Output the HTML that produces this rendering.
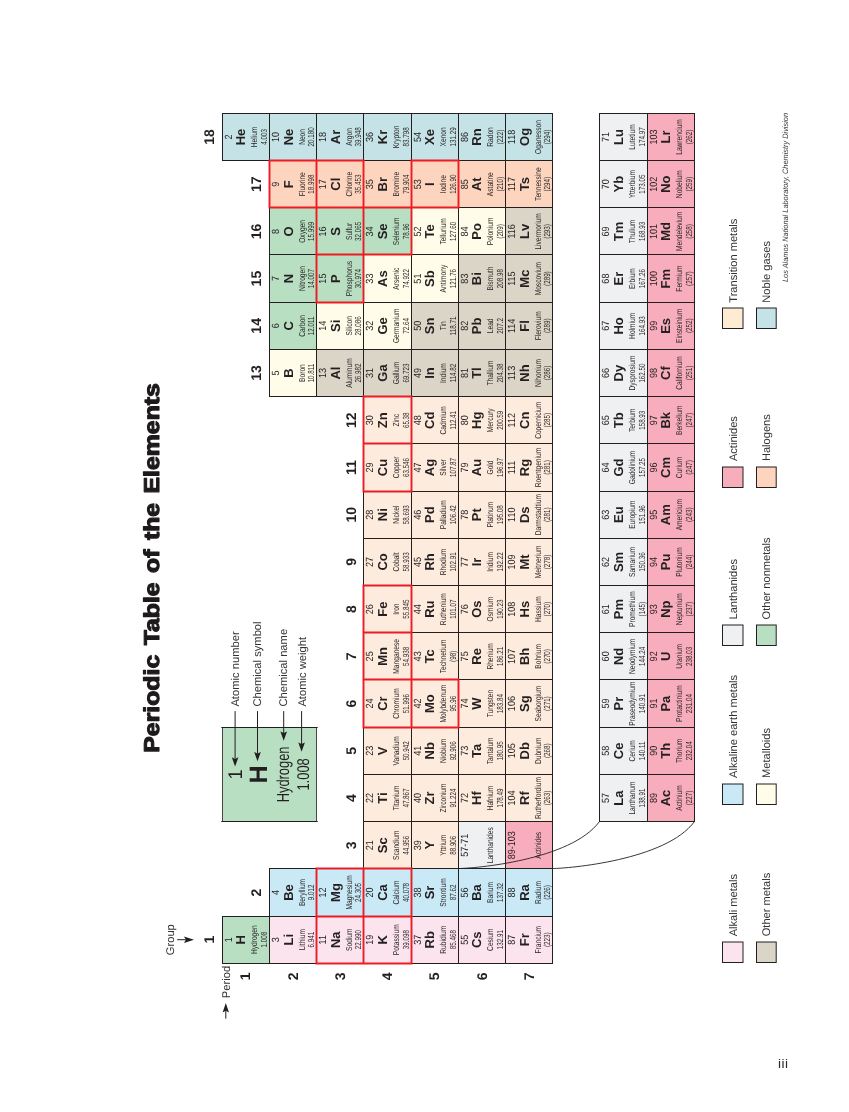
<!DOCTYPE html>
<html lang="en">
<head>
<meta charset="utf-8">
<title>Periodic Table of the Elements</title>
<style>
html,body{margin:0;padding:0;background:#fff;}
body{width:849px;height:1112px;overflow:hidden;position:relative;}
svg{position:absolute;left:0;top:0;display:block;}
svg text{font-family:"Liberation Sans",Arial,Helvetica,sans-serif;}
svg .b{font-weight:700;}
#pageno{position:absolute;left:778px;top:1057px;font:13.5px/14px "Liberation Sans",Arial,Helvetica,sans-serif;letter-spacing:.5px;color:#2b2829;}
</style>
</head>
<body>
<svg width="849" height="1112" viewBox="0 0 849 1112" text-rendering="geometricPrecision">
<g transform="translate(0 1112) rotate(-90)">
<g id="fills" shape-rendering="geometricPrecision">
<rect x="148.5" y="222.5" width="47" height="47" fill="#b9dfc3"/>
<rect x="951.5" y="222.5" width="47" height="47" fill="#c5e3e6"/>
<rect x="148.5" y="269.5" width="47" height="47" fill="#fce4ee"/>
<rect x="195.5" y="269.5" width="48" height="47" fill="#c9e9f6"/>
<rect x="715.5" y="269.5" width="47" height="47" fill="#fffde9"/>
<rect x="762.5" y="269.5" width="47" height="47" fill="#b9dfc3"/>
<rect x="809.5" y="269.5" width="48" height="47" fill="#b9dfc3"/>
<rect x="857.5" y="269.5" width="47" height="47" fill="#b9dfc3"/>
<rect x="904.5" y="269.5" width="47" height="47" fill="#fdd4be"/>
<rect x="951.5" y="269.5" width="47" height="47" fill="#c5e3e6"/>
<rect x="148.5" y="316.5" width="47" height="47" fill="#fce4ee"/>
<rect x="195.5" y="316.5" width="48" height="47" fill="#c9e9f6"/>
<rect x="715.5" y="316.5" width="47" height="47" fill="#dbd5c8"/>
<rect x="762.5" y="316.5" width="47" height="47" fill="#fffde9"/>
<rect x="809.5" y="316.5" width="48" height="47" fill="#b9dfc3"/>
<rect x="857.5" y="316.5" width="47" height="47" fill="#b9dfc3"/>
<rect x="904.5" y="316.5" width="47" height="47" fill="#fdd4be"/>
<rect x="951.5" y="316.5" width="47" height="47" fill="#c5e3e6"/>
<rect x="148.5" y="363.5" width="47" height="48" fill="#fce4ee"/>
<rect x="195.5" y="363.5" width="48" height="48" fill="#c9e9f6"/>
<rect x="243.5" y="363.5" width="47" height="48" fill="#fdebde"/>
<rect x="290.5" y="363.5" width="47" height="48" fill="#fdebde"/>
<rect x="337.5" y="363.5" width="47" height="48" fill="#fdebde"/>
<rect x="384.5" y="363.5" width="48" height="48" fill="#fdebde"/>
<rect x="432.5" y="363.5" width="47" height="48" fill="#fdebde"/>
<rect x="479.5" y="363.5" width="47" height="48" fill="#fdebde"/>
<rect x="526.5" y="363.5" width="47" height="48" fill="#fdebde"/>
<rect x="573.5" y="363.5" width="47" height="48" fill="#fdebde"/>
<rect x="620.5" y="363.5" width="48" height="48" fill="#fdebde"/>
<rect x="668.5" y="363.5" width="47" height="48" fill="#fdebde"/>
<rect x="715.5" y="363.5" width="47" height="48" fill="#dbd5c8"/>
<rect x="762.5" y="363.5" width="47" height="48" fill="#fffde9"/>
<rect x="809.5" y="363.5" width="48" height="48" fill="#fffde9"/>
<rect x="857.5" y="363.5" width="47" height="48" fill="#b9dfc3"/>
<rect x="904.5" y="363.5" width="47" height="48" fill="#fdd4be"/>
<rect x="951.5" y="363.5" width="47" height="48" fill="#c5e3e6"/>
<rect x="148.5" y="411.5" width="47" height="47" fill="#fce4ee"/>
<rect x="195.5" y="411.5" width="48" height="47" fill="#c9e9f6"/>
<rect x="243.5" y="411.5" width="47" height="47" fill="#fdebde"/>
<rect x="290.5" y="411.5" width="47" height="47" fill="#fdebde"/>
<rect x="337.5" y="411.5" width="47" height="47" fill="#fdebde"/>
<rect x="384.5" y="411.5" width="48" height="47" fill="#fdebde"/>
<rect x="432.5" y="411.5" width="47" height="47" fill="#fdebde"/>
<rect x="479.5" y="411.5" width="47" height="47" fill="#fdebde"/>
<rect x="526.5" y="411.5" width="47" height="47" fill="#fdebde"/>
<rect x="573.5" y="411.5" width="47" height="47" fill="#fdebde"/>
<rect x="620.5" y="411.5" width="48" height="47" fill="#fdebde"/>
<rect x="668.5" y="411.5" width="47" height="47" fill="#fdebde"/>
<rect x="715.5" y="411.5" width="47" height="47" fill="#dbd5c8"/>
<rect x="762.5" y="411.5" width="47" height="47" fill="#dbd5c8"/>
<rect x="809.5" y="411.5" width="48" height="47" fill="#fffde9"/>
<rect x="857.5" y="411.5" width="47" height="47" fill="#fffde9"/>
<rect x="904.5" y="411.5" width="47" height="47" fill="#fdd4be"/>
<rect x="951.5" y="411.5" width="47" height="47" fill="#c5e3e6"/>
<rect x="148.5" y="458.5" width="47" height="47" fill="#fce4ee"/>
<rect x="195.5" y="458.5" width="48" height="47" fill="#c9e9f6"/>
<rect x="290.5" y="458.5" width="47" height="47" fill="#fdebde"/>
<rect x="337.5" y="458.5" width="47" height="47" fill="#fdebde"/>
<rect x="384.5" y="458.5" width="48" height="47" fill="#fdebde"/>
<rect x="432.5" y="458.5" width="47" height="47" fill="#fdebde"/>
<rect x="479.5" y="458.5" width="47" height="47" fill="#fdebde"/>
<rect x="526.5" y="458.5" width="47" height="47" fill="#fdebde"/>
<rect x="573.5" y="458.5" width="47" height="47" fill="#fdebde"/>
<rect x="620.5" y="458.5" width="48" height="47" fill="#fdebde"/>
<rect x="668.5" y="458.5" width="47" height="47" fill="#fdebde"/>
<rect x="715.5" y="458.5" width="47" height="47" fill="#dbd5c8"/>
<rect x="762.5" y="458.5" width="47" height="47" fill="#dbd5c8"/>
<rect x="809.5" y="458.5" width="48" height="47" fill="#dbd5c8"/>
<rect x="857.5" y="458.5" width="47" height="47" fill="#fffde9"/>
<rect x="904.5" y="458.5" width="47" height="47" fill="#fdd4be"/>
<rect x="951.5" y="458.5" width="47" height="47" fill="#c5e3e6"/>
<rect x="148.5" y="505.5" width="47" height="47" fill="#fce4ee"/>
<rect x="195.5" y="505.5" width="48" height="47" fill="#c9e9f6"/>
<rect x="290.5" y="505.5" width="47" height="47" fill="#fdebde"/>
<rect x="337.5" y="505.5" width="47" height="47" fill="#fdebde"/>
<rect x="384.5" y="505.5" width="48" height="47" fill="#fdebde"/>
<rect x="432.5" y="505.5" width="47" height="47" fill="#fdebde"/>
<rect x="479.5" y="505.5" width="47" height="47" fill="#fdebde"/>
<rect x="526.5" y="505.5" width="47" height="47" fill="#fdebde"/>
<rect x="573.5" y="505.5" width="47" height="47" fill="#fdebde"/>
<rect x="620.5" y="505.5" width="48" height="47" fill="#fdebde"/>
<rect x="668.5" y="505.5" width="47" height="47" fill="#fdebde"/>
<rect x="715.5" y="505.5" width="47" height="47" fill="#dbd5c8"/>
<rect x="762.5" y="505.5" width="47" height="47" fill="#dbd5c8"/>
<rect x="809.5" y="505.5" width="48" height="47" fill="#dbd5c8"/>
<rect x="857.5" y="505.5" width="47" height="47" fill="#dbd5c8"/>
<rect x="904.5" y="505.5" width="47" height="47" fill="#fdd4be"/>
<rect x="951.5" y="505.5" width="47" height="47" fill="#c5e3e6"/>
<rect x="290.5" y="599.5" width="47" height="48" fill="#eff0f2"/>
<rect x="337.5" y="599.5" width="47" height="48" fill="#eff0f2"/>
<rect x="384.5" y="599.5" width="48" height="48" fill="#eff0f2"/>
<rect x="432.5" y="599.5" width="47" height="48" fill="#eff0f2"/>
<rect x="479.5" y="599.5" width="47" height="48" fill="#eff0f2"/>
<rect x="526.5" y="599.5" width="47" height="48" fill="#eff0f2"/>
<rect x="573.5" y="599.5" width="47" height="48" fill="#eff0f2"/>
<rect x="620.5" y="599.5" width="48" height="48" fill="#eff0f2"/>
<rect x="668.5" y="599.5" width="47" height="48" fill="#eff0f2"/>
<rect x="715.5" y="599.5" width="47" height="48" fill="#eff0f2"/>
<rect x="762.5" y="599.5" width="47" height="48" fill="#eff0f2"/>
<rect x="809.5" y="599.5" width="48" height="48" fill="#eff0f2"/>
<rect x="857.5" y="599.5" width="47" height="48" fill="#eff0f2"/>
<rect x="904.5" y="599.5" width="47" height="48" fill="#eff0f2"/>
<rect x="951.5" y="599.5" width="47" height="48" fill="#eff0f2"/>
<rect x="290.5" y="647.5" width="47" height="47" fill="#f8adbc"/>
<rect x="337.5" y="647.5" width="47" height="47" fill="#f8adbc"/>
<rect x="384.5" y="647.5" width="48" height="47" fill="#f8adbc"/>
<rect x="432.5" y="647.5" width="47" height="47" fill="#f8adbc"/>
<rect x="479.5" y="647.5" width="47" height="47" fill="#f8adbc"/>
<rect x="526.5" y="647.5" width="47" height="47" fill="#f8adbc"/>
<rect x="573.5" y="647.5" width="47" height="47" fill="#f8adbc"/>
<rect x="620.5" y="647.5" width="48" height="47" fill="#f8adbc"/>
<rect x="668.5" y="647.5" width="47" height="47" fill="#f8adbc"/>
<rect x="715.5" y="647.5" width="47" height="47" fill="#f8adbc"/>
<rect x="762.5" y="647.5" width="47" height="47" fill="#f8adbc"/>
<rect x="809.5" y="647.5" width="48" height="47" fill="#f8adbc"/>
<rect x="857.5" y="647.5" width="47" height="47" fill="#f8adbc"/>
<rect x="904.5" y="647.5" width="47" height="47" fill="#f8adbc"/>
<rect x="951.5" y="647.5" width="47" height="47" fill="#f8adbc"/>
<rect x="243.5" y="458.5" width="47" height="47" fill="#eff0f2"/>
<rect x="243.5" y="505.5" width="47" height="47" fill="#f8adbc"/>
</g>
<path id="grid" fill="none" stroke="#231f20" stroke-width="1" d="M148 222.5H196M951 222.5H999M148 269.5H244M715 269.5H999M148 316.5H244M715 316.5H999M148 363.5H999M148 411.5H999M148 458.5H999M148 505.5H999M148 552.5H999M290 599.5H999M290 647.5H999M290 694.5H999M148.5 222V553M195.5 222V553M243.5 269V553M290.5 363V553M290.5 599V695M337.5 363V553M337.5 599V695M384.5 363V553M384.5 599V695M432.5 363V553M432.5 599V695M479.5 363V553M479.5 599V695M526.5 363V553M526.5 599V695M573.5 363V553M573.5 599V695M620.5 363V553M620.5 599V695M668.5 363V553M668.5 599V695M715.5 269V553M715.5 599V695M762.5 269V553M762.5 599V695M809.5 269V553M809.5 599V695M857.5 269V553M857.5 599V695M904.5 269V553M904.5 599V695M951.5 222V553M951.5 599V695M998.5 222V553M998.5 599V695"/>
<g id="curves" fill="none" stroke="#231f20" stroke-width="0.9">
<path d="M243.5 458.5 C243.5 473.5 251.5 570.8 290.5 599.5"/>
<path d="M243.5 552.5 C243.5 567.5 251.5 665.8 290.5 694.5"/>
</g>
<path id="reds" fill="none" stroke="#ed1c24" stroke-width="1.9" d="M903.55 269.5H952.45M147.55 316.5H244.45M808.55 316.5H952.45M147.55 363.5H244.45M383.55 363.5H527.45M619.55 363.5H716.45M808.55 363.5H952.45M147.55 411.5H244.45M383.55 411.5H527.45M619.55 411.5H716.45M856.55 411.5H952.45M383.55 458.5H433.45M903.55 458.5H952.45M148.5 315.55V412.45M195.5 315.55V412.45M243.5 315.55V412.45M384.5 362.55V459.45M432.5 362.55V459.45M479.5 362.55V412.45M526.5 362.55V412.45M620.5 362.55V412.45M668.5 362.55V412.45M715.5 362.55V412.45M809.5 315.55V364.45M857.5 315.55V412.45M904.5 268.55V459.45M951.5 268.55V364.45M951.5 410.55V459.45"/>
<g id="celltext" text-anchor="middle" fill="#231f20">
<text transform="translate(172.31 231.8) scale(0.87 1)" font-size="10.4">1</text>
<text x="172.31" y="245.35" font-size="13" class="b">H</text>
<text transform="translate(172.31 257.3) scale(0.77 1)" font-size="8.6">Hydrogen</text>
<text transform="translate(172.31 267.05) scale(0.71 1)" font-size="8.8">1.008</text>
<text transform="translate(975.05 231.8) scale(0.87 1)" font-size="10.4">2</text>
<text x="975.05" y="245.35" font-size="13" class="b">He</text>
<text transform="translate(975.05 257.3) scale(0.77 1)" font-size="8.6">Helium</text>
<text transform="translate(975.05 267.05) scale(0.71 1)" font-size="8.8">4.003</text>
<text transform="translate(172.31 279.02) scale(0.87 1)" font-size="10.4">3</text>
<text x="172.31" y="292.57" font-size="13" class="b">Li</text>
<text transform="translate(172.31 304.52) scale(0.77 1)" font-size="8.6">Lithium</text>
<text transform="translate(172.31 314.27) scale(0.71 1)" font-size="8.8">6.941</text>
<text transform="translate(219.53 279.02) scale(0.87 1)" font-size="10.4">4</text>
<text x="219.53" y="292.57" font-size="13" class="b">Be</text>
<text transform="translate(219.53 304.52) scale(0.77 1)" font-size="8.6">Beryllium</text>
<text transform="translate(219.53 314.27) scale(0.71 1)" font-size="8.8">9.012</text>
<text transform="translate(738.95 279.02) scale(0.87 1)" font-size="10.4">5</text>
<text x="738.95" y="292.57" font-size="13" class="b">B</text>
<text transform="translate(738.95 304.52) scale(0.77 1)" font-size="8.6">Boron</text>
<text transform="translate(738.95 314.27) scale(0.71 1)" font-size="8.8">10.811</text>
<text transform="translate(786.17 279.02) scale(0.87 1)" font-size="10.4">6</text>
<text x="786.17" y="292.57" font-size="13" class="b">C</text>
<text transform="translate(786.17 304.52) scale(0.77 1)" font-size="8.6">Carbon</text>
<text transform="translate(786.17 314.27) scale(0.71 1)" font-size="8.8">12.011</text>
<text transform="translate(833.39 279.02) scale(0.87 1)" font-size="10.4">7</text>
<text x="833.39" y="292.57" font-size="13" class="b">N</text>
<text transform="translate(833.39 304.52) scale(0.77 1)" font-size="8.6">Nitrogen</text>
<text transform="translate(833.39 314.27) scale(0.71 1)" font-size="8.8">14.007</text>
<text transform="translate(880.61 279.02) scale(0.87 1)" font-size="10.4">8</text>
<text x="880.61" y="292.57" font-size="13" class="b">O</text>
<text transform="translate(880.61 304.52) scale(0.77 1)" font-size="8.6">Oxygen</text>
<text transform="translate(880.61 314.27) scale(0.71 1)" font-size="8.8">15.999</text>
<text transform="translate(927.83 279.02) scale(0.87 1)" font-size="10.4">9</text>
<text x="927.83" y="292.57" font-size="13" class="b">F</text>
<text transform="translate(927.83 304.52) scale(0.77 1)" font-size="8.6">Fluorine</text>
<text transform="translate(927.83 314.27) scale(0.71 1)" font-size="8.8">18.998</text>
<text transform="translate(975.05 279.02) scale(0.87 1)" font-size="10.4">10</text>
<text x="975.05" y="292.57" font-size="13" class="b">Ne</text>
<text transform="translate(975.05 304.52) scale(0.77 1)" font-size="8.6">Neon</text>
<text transform="translate(975.05 314.27) scale(0.71 1)" font-size="8.8">20.180</text>
<text transform="translate(172.31 326.24) scale(0.87 1)" font-size="10.4">11</text>
<text x="172.31" y="339.79" font-size="13" class="b">Na</text>
<text transform="translate(172.31 351.74) scale(0.77 1)" font-size="8.6">Sodium</text>
<text transform="translate(172.31 361.49) scale(0.71 1)" font-size="8.8">22.990</text>
<text transform="translate(219.53 326.24) scale(0.87 1)" font-size="10.4">12</text>
<text x="219.53" y="339.79" font-size="13" class="b">Mg</text>
<text transform="translate(219.53 351.74) scale(0.77 1)" font-size="8.6">Magnesium</text>
<text transform="translate(219.53 361.49) scale(0.71 1)" font-size="8.8">24.305</text>
<text transform="translate(738.95 326.24) scale(0.87 1)" font-size="10.4">13</text>
<text x="738.95" y="339.79" font-size="13" class="b">Al</text>
<text transform="translate(738.95 351.74) scale(0.77 1)" font-size="8.6">Aluminum</text>
<text transform="translate(738.95 361.49) scale(0.71 1)" font-size="8.8">26.982</text>
<text transform="translate(786.17 326.24) scale(0.87 1)" font-size="10.4">14</text>
<text x="786.17" y="339.79" font-size="13" class="b">Si</text>
<text transform="translate(786.17 351.74) scale(0.77 1)" font-size="8.6">Silicon</text>
<text transform="translate(786.17 361.49) scale(0.71 1)" font-size="8.8">28.086</text>
<text transform="translate(833.39 326.24) scale(0.87 1)" font-size="10.4">15</text>
<text x="833.39" y="339.79" font-size="13" class="b">P</text>
<text transform="translate(833.39 351.74) scale(0.77 1)" font-size="8.6">Phosphorus</text>
<text transform="translate(833.39 361.49) scale(0.71 1)" font-size="8.8">30.974</text>
<text transform="translate(880.61 326.24) scale(0.87 1)" font-size="10.4">16</text>
<text x="880.61" y="339.79" font-size="13" class="b">S</text>
<text transform="translate(880.61 351.74) scale(0.77 1)" font-size="8.6">Sulfur</text>
<text transform="translate(880.61 361.49) scale(0.71 1)" font-size="8.8">32.065</text>
<text transform="translate(927.83 326.24) scale(0.87 1)" font-size="10.4">17</text>
<text x="927.83" y="339.79" font-size="13" class="b">Cl</text>
<text transform="translate(927.83 351.74) scale(0.77 1)" font-size="8.6">Chlorine</text>
<text transform="translate(927.83 361.49) scale(0.71 1)" font-size="8.8">35.453</text>
<text transform="translate(975.05 326.24) scale(0.87 1)" font-size="10.4">18</text>
<text x="975.05" y="339.79" font-size="13" class="b">Ar</text>
<text transform="translate(975.05 351.74) scale(0.77 1)" font-size="8.6">Argon</text>
<text transform="translate(975.05 361.49) scale(0.71 1)" font-size="8.8">39.948</text>
<text transform="translate(172.31 373.46) scale(0.87 1)" font-size="10.4">19</text>
<text x="172.31" y="387.01" font-size="13" class="b">K</text>
<text transform="translate(172.31 398.96) scale(0.77 1)" font-size="8.6">Potassium</text>
<text transform="translate(172.31 408.71) scale(0.71 1)" font-size="8.8">39.098</text>
<text transform="translate(219.53 373.46) scale(0.87 1)" font-size="10.4">20</text>
<text x="219.53" y="387.01" font-size="13" class="b">Ca</text>
<text transform="translate(219.53 398.96) scale(0.77 1)" font-size="8.6">Calcium</text>
<text transform="translate(219.53 408.71) scale(0.71 1)" font-size="8.8">40.078</text>
<text transform="translate(266.75 373.46) scale(0.87 1)" font-size="10.4">21</text>
<text x="266.75" y="387.01" font-size="13" class="b">Sc</text>
<text transform="translate(266.75 398.96) scale(0.77 1)" font-size="8.6">Scandium</text>
<text transform="translate(266.75 408.71) scale(0.71 1)" font-size="8.8">44.956</text>
<text transform="translate(313.97 373.46) scale(0.87 1)" font-size="10.4">22</text>
<text x="313.97" y="387.01" font-size="13" class="b">Ti</text>
<text transform="translate(313.97 398.96) scale(0.77 1)" font-size="8.6">Titanium</text>
<text transform="translate(313.97 408.71) scale(0.71 1)" font-size="8.8">47.867</text>
<text transform="translate(361.19 373.46) scale(0.87 1)" font-size="10.4">23</text>
<text x="361.19" y="387.01" font-size="13" class="b">V</text>
<text transform="translate(361.19 398.96) scale(0.77 1)" font-size="8.6">Vanadium</text>
<text transform="translate(361.19 408.71) scale(0.71 1)" font-size="8.8">50.942</text>
<text transform="translate(408.41 373.46) scale(0.87 1)" font-size="10.4">24</text>
<text x="408.41" y="387.01" font-size="13" class="b">Cr</text>
<text transform="translate(408.41 398.96) scale(0.77 1)" font-size="8.6">Chromium</text>
<text transform="translate(408.41 408.71) scale(0.71 1)" font-size="8.8">51.996</text>
<text transform="translate(455.63 373.46) scale(0.87 1)" font-size="10.4">25</text>
<text x="455.63" y="387.01" font-size="13" class="b">Mn</text>
<text transform="translate(455.63 398.96) scale(0.77 1)" font-size="8.6">Manganese</text>
<text transform="translate(455.63 408.71) scale(0.71 1)" font-size="8.8">54.938</text>
<text transform="translate(502.85 373.46) scale(0.87 1)" font-size="10.4">26</text>
<text x="502.85" y="387.01" font-size="13" class="b">Fe</text>
<text transform="translate(502.85 398.96) scale(0.77 1)" font-size="8.6">Iron</text>
<text transform="translate(502.85 408.71) scale(0.71 1)" font-size="8.8">55.845</text>
<text transform="translate(550.07 373.46) scale(0.87 1)" font-size="10.4">27</text>
<text x="550.07" y="387.01" font-size="13" class="b">Co</text>
<text transform="translate(550.07 398.96) scale(0.77 1)" font-size="8.6">Cobalt</text>
<text transform="translate(550.07 408.71) scale(0.71 1)" font-size="8.8">58.933</text>
<text transform="translate(597.29 373.46) scale(0.87 1)" font-size="10.4">28</text>
<text x="597.29" y="387.01" font-size="13" class="b">Ni</text>
<text transform="translate(597.29 398.96) scale(0.77 1)" font-size="8.6">Nickel</text>
<text transform="translate(597.29 408.71) scale(0.71 1)" font-size="8.8">58.693</text>
<text transform="translate(644.51 373.46) scale(0.87 1)" font-size="10.4">29</text>
<text x="644.51" y="387.01" font-size="13" class="b">Cu</text>
<text transform="translate(644.51 398.96) scale(0.77 1)" font-size="8.6">Copper</text>
<text transform="translate(644.51 408.71) scale(0.71 1)" font-size="8.8">63.546</text>
<text transform="translate(691.73 373.46) scale(0.87 1)" font-size="10.4">30</text>
<text x="691.73" y="387.01" font-size="13" class="b">Zn</text>
<text transform="translate(691.73 398.96) scale(0.77 1)" font-size="8.6">Zinc</text>
<text transform="translate(691.73 408.71) scale(0.71 1)" font-size="8.8">65.38</text>
<text transform="translate(738.95 373.46) scale(0.87 1)" font-size="10.4">31</text>
<text x="738.95" y="387.01" font-size="13" class="b">Ga</text>
<text transform="translate(738.95 398.96) scale(0.77 1)" font-size="8.6">Gallium</text>
<text transform="translate(738.95 408.71) scale(0.71 1)" font-size="8.8">69.723</text>
<text transform="translate(786.17 373.46) scale(0.87 1)" font-size="10.4">32</text>
<text x="786.17" y="387.01" font-size="13" class="b">Ge</text>
<text transform="translate(786.17 398.96) scale(0.77 1)" font-size="8.6">Germanium</text>
<text transform="translate(786.17 408.71) scale(0.71 1)" font-size="8.8">72.64</text>
<text transform="translate(833.39 373.46) scale(0.87 1)" font-size="10.4">33</text>
<text x="833.39" y="387.01" font-size="13" class="b">As</text>
<text transform="translate(833.39 398.96) scale(0.77 1)" font-size="8.6">Arsenic</text>
<text transform="translate(833.39 408.71) scale(0.71 1)" font-size="8.8">74.922</text>
<text transform="translate(880.61 373.46) scale(0.87 1)" font-size="10.4">34</text>
<text x="880.61" y="387.01" font-size="13" class="b">Se</text>
<text transform="translate(880.61 398.96) scale(0.77 1)" font-size="8.6">Selenium</text>
<text transform="translate(880.61 408.71) scale(0.71 1)" font-size="8.8">78.96</text>
<text transform="translate(927.83 373.46) scale(0.87 1)" font-size="10.4">35</text>
<text x="927.83" y="387.01" font-size="13" class="b">Br</text>
<text transform="translate(927.83 398.96) scale(0.77 1)" font-size="8.6">Bromine</text>
<text transform="translate(927.83 408.71) scale(0.71 1)" font-size="8.8">79.904</text>
<text transform="translate(975.05 373.46) scale(0.87 1)" font-size="10.4">36</text>
<text x="975.05" y="387.01" font-size="13" class="b">Kr</text>
<text transform="translate(975.05 398.96) scale(0.77 1)" font-size="8.6">Krypton</text>
<text transform="translate(975.05 408.71) scale(0.71 1)" font-size="8.8">83.798</text>
<text transform="translate(172.31 420.68) scale(0.87 1)" font-size="10.4">37</text>
<text x="172.31" y="434.23" font-size="13" class="b">Rb</text>
<text transform="translate(172.31 446.18) scale(0.77 1)" font-size="8.6">Rubidium</text>
<text transform="translate(172.31 455.93) scale(0.71 1)" font-size="8.8">85.468</text>
<text transform="translate(219.53 420.68) scale(0.87 1)" font-size="10.4">38</text>
<text x="219.53" y="434.23" font-size="13" class="b">Sr</text>
<text transform="translate(219.53 446.18) scale(0.77 1)" font-size="8.6">Strontium</text>
<text transform="translate(219.53 455.93) scale(0.71 1)" font-size="8.8">87.62</text>
<text transform="translate(266.75 420.68) scale(0.87 1)" font-size="10.4">39</text>
<text x="266.75" y="434.23" font-size="13" class="b">Y</text>
<text transform="translate(266.75 446.18) scale(0.77 1)" font-size="8.6">Yttrium</text>
<text transform="translate(266.75 455.93) scale(0.71 1)" font-size="8.8">88.906</text>
<text transform="translate(313.97 420.68) scale(0.87 1)" font-size="10.4">40</text>
<text x="313.97" y="434.23" font-size="13" class="b">Zr</text>
<text transform="translate(313.97 446.18) scale(0.77 1)" font-size="8.6">Zirconium</text>
<text transform="translate(313.97 455.93) scale(0.71 1)" font-size="8.8">91.224</text>
<text transform="translate(361.19 420.68) scale(0.87 1)" font-size="10.4">41</text>
<text x="361.19" y="434.23" font-size="13" class="b">Nb</text>
<text transform="translate(361.19 446.18) scale(0.77 1)" font-size="8.6">Niobium</text>
<text transform="translate(361.19 455.93) scale(0.71 1)" font-size="8.8">92.906</text>
<text transform="translate(408.41 420.68) scale(0.87 1)" font-size="10.4">42</text>
<text x="408.41" y="434.23" font-size="13" class="b">Mo</text>
<text transform="translate(408.41 446.18) scale(0.77 1)" font-size="8.6">Molybdenum</text>
<text transform="translate(408.41 455.93) scale(0.71 1)" font-size="8.8">95.96</text>
<text transform="translate(455.63 420.68) scale(0.87 1)" font-size="10.4">43</text>
<text x="455.63" y="434.23" font-size="13" class="b">Tc</text>
<text transform="translate(455.63 446.18) scale(0.77 1)" font-size="8.6">Technetium</text>
<text transform="translate(455.63 455.93) scale(0.71 1)" font-size="8.8">(98)</text>
<text transform="translate(502.85 420.68) scale(0.87 1)" font-size="10.4">44</text>
<text x="502.85" y="434.23" font-size="13" class="b">Ru</text>
<text transform="translate(502.85 446.18) scale(0.77 1)" font-size="8.6">Ruthenium</text>
<text transform="translate(502.85 455.93) scale(0.71 1)" font-size="8.8">101.07</text>
<text transform="translate(550.07 420.68) scale(0.87 1)" font-size="10.4">45</text>
<text x="550.07" y="434.23" font-size="13" class="b">Rh</text>
<text transform="translate(550.07 446.18) scale(0.77 1)" font-size="8.6">Rhodium</text>
<text transform="translate(550.07 455.93) scale(0.71 1)" font-size="8.8">102.91</text>
<text transform="translate(597.29 420.68) scale(0.87 1)" font-size="10.4">46</text>
<text x="597.29" y="434.23" font-size="13" class="b">Pd</text>
<text transform="translate(597.29 446.18) scale(0.77 1)" font-size="8.6">Palladium</text>
<text transform="translate(597.29 455.93) scale(0.71 1)" font-size="8.8">106.42</text>
<text transform="translate(644.51 420.68) scale(0.87 1)" font-size="10.4">47</text>
<text x="644.51" y="434.23" font-size="13" class="b">Ag</text>
<text transform="translate(644.51 446.18) scale(0.77 1)" font-size="8.6">Silver</text>
<text transform="translate(644.51 455.93) scale(0.71 1)" font-size="8.8">107.87</text>
<text transform="translate(691.73 420.68) scale(0.87 1)" font-size="10.4">48</text>
<text x="691.73" y="434.23" font-size="13" class="b">Cd</text>
<text transform="translate(691.73 446.18) scale(0.77 1)" font-size="8.6">Cadmium</text>
<text transform="translate(691.73 455.93) scale(0.71 1)" font-size="8.8">112.41</text>
<text transform="translate(738.95 420.68) scale(0.87 1)" font-size="10.4">49</text>
<text x="738.95" y="434.23" font-size="13" class="b">In</text>
<text transform="translate(738.95 446.18) scale(0.77 1)" font-size="8.6">Indium</text>
<text transform="translate(738.95 455.93) scale(0.71 1)" font-size="8.8">114.82</text>
<text transform="translate(786.17 420.68) scale(0.87 1)" font-size="10.4">50</text>
<text x="786.17" y="434.23" font-size="13" class="b">Sn</text>
<text transform="translate(786.17 446.18) scale(0.77 1)" font-size="8.6">Tin</text>
<text transform="translate(786.17 455.93) scale(0.71 1)" font-size="8.8">118.71</text>
<text transform="translate(833.39 420.68) scale(0.87 1)" font-size="10.4">51</text>
<text x="833.39" y="434.23" font-size="13" class="b">Sb</text>
<text transform="translate(833.39 446.18) scale(0.77 1)" font-size="8.6">Antimony</text>
<text transform="translate(833.39 455.93) scale(0.71 1)" font-size="8.8">121.76</text>
<text transform="translate(880.61 420.68) scale(0.87 1)" font-size="10.4">52</text>
<text x="880.61" y="434.23" font-size="13" class="b">Te</text>
<text transform="translate(880.61 446.18) scale(0.77 1)" font-size="8.6">Tellurium</text>
<text transform="translate(880.61 455.93) scale(0.71 1)" font-size="8.8">127.60</text>
<text transform="translate(927.83 420.68) scale(0.87 1)" font-size="10.4">53</text>
<text x="927.83" y="434.23" font-size="13" class="b">I</text>
<text transform="translate(927.83 446.18) scale(0.77 1)" font-size="8.6">Iodine</text>
<text transform="translate(927.83 455.93) scale(0.71 1)" font-size="8.8">126.90</text>
<text transform="translate(975.05 420.68) scale(0.87 1)" font-size="10.4">54</text>
<text x="975.05" y="434.23" font-size="13" class="b">Xe</text>
<text transform="translate(975.05 446.18) scale(0.77 1)" font-size="8.6">Xenon</text>
<text transform="translate(975.05 455.93) scale(0.71 1)" font-size="8.8">131.29</text>
<text transform="translate(172.31 467.9) scale(0.87 1)" font-size="10.4">55</text>
<text x="172.31" y="481.45" font-size="13" class="b">Cs</text>
<text transform="translate(172.31 493.4) scale(0.77 1)" font-size="8.6">Cesium</text>
<text transform="translate(172.31 503.15) scale(0.71 1)" font-size="8.8">132.91</text>
<text transform="translate(219.53 467.9) scale(0.87 1)" font-size="10.4">56</text>
<text x="219.53" y="481.45" font-size="13" class="b">Ba</text>
<text transform="translate(219.53 493.4) scale(0.77 1)" font-size="8.6">Barium</text>
<text transform="translate(219.53 503.15) scale(0.71 1)" font-size="8.8">137.32</text>
<text transform="translate(313.97 467.9) scale(0.87 1)" font-size="10.4">72</text>
<text x="313.97" y="481.45" font-size="13" class="b">Hf</text>
<text transform="translate(313.97 493.4) scale(0.77 1)" font-size="8.6">Hafnium</text>
<text transform="translate(313.97 503.15) scale(0.71 1)" font-size="8.8">178.49</text>
<text transform="translate(361.19 467.9) scale(0.87 1)" font-size="10.4">73</text>
<text x="361.19" y="481.45" font-size="13" class="b">Ta</text>
<text transform="translate(361.19 493.4) scale(0.77 1)" font-size="8.6">Tantalum</text>
<text transform="translate(361.19 503.15) scale(0.71 1)" font-size="8.8">180.95</text>
<text transform="translate(408.41 467.9) scale(0.87 1)" font-size="10.4">74</text>
<text x="408.41" y="481.45" font-size="13" class="b">W</text>
<text transform="translate(408.41 493.4) scale(0.77 1)" font-size="8.6">Tungsten</text>
<text transform="translate(408.41 503.15) scale(0.71 1)" font-size="8.8">183.84</text>
<text transform="translate(455.63 467.9) scale(0.87 1)" font-size="10.4">75</text>
<text x="455.63" y="481.45" font-size="13" class="b">Re</text>
<text transform="translate(455.63 493.4) scale(0.77 1)" font-size="8.6">Rhenium</text>
<text transform="translate(455.63 503.15) scale(0.71 1)" font-size="8.8">186.21</text>
<text transform="translate(502.85 467.9) scale(0.87 1)" font-size="10.4">76</text>
<text x="502.85" y="481.45" font-size="13" class="b">Os</text>
<text transform="translate(502.85 493.4) scale(0.77 1)" font-size="8.6">Osmium</text>
<text transform="translate(502.85 503.15) scale(0.71 1)" font-size="8.8">190.23</text>
<text transform="translate(550.07 467.9) scale(0.87 1)" font-size="10.4">77</text>
<text x="550.07" y="481.45" font-size="13" class="b">Ir</text>
<text transform="translate(550.07 493.4) scale(0.77 1)" font-size="8.6">Iridium</text>
<text transform="translate(550.07 503.15) scale(0.71 1)" font-size="8.8">192.22</text>
<text transform="translate(597.29 467.9) scale(0.87 1)" font-size="10.4">78</text>
<text x="597.29" y="481.45" font-size="13" class="b">Pt</text>
<text transform="translate(597.29 493.4) scale(0.77 1)" font-size="8.6">Platinum</text>
<text transform="translate(597.29 503.15) scale(0.71 1)" font-size="8.8">195.08</text>
<text transform="translate(644.51 467.9) scale(0.87 1)" font-size="10.4">79</text>
<text x="644.51" y="481.45" font-size="13" class="b">Au</text>
<text transform="translate(644.51 493.4) scale(0.77 1)" font-size="8.6">Gold</text>
<text transform="translate(644.51 503.15) scale(0.71 1)" font-size="8.8">196.97</text>
<text transform="translate(691.73 467.9) scale(0.87 1)" font-size="10.4">80</text>
<text x="691.73" y="481.45" font-size="13" class="b">Hg</text>
<text transform="translate(691.73 493.4) scale(0.77 1)" font-size="8.6">Mercury</text>
<text transform="translate(691.73 503.15) scale(0.71 1)" font-size="8.8">200.59</text>
<text transform="translate(738.95 467.9) scale(0.87 1)" font-size="10.4">81</text>
<text x="738.95" y="481.45" font-size="13" class="b">Tl</text>
<text transform="translate(738.95 493.4) scale(0.77 1)" font-size="8.6">Thallium</text>
<text transform="translate(738.95 503.15) scale(0.71 1)" font-size="8.8">204.38</text>
<text transform="translate(786.17 467.9) scale(0.87 1)" font-size="10.4">82</text>
<text x="786.17" y="481.45" font-size="13" class="b">Pb</text>
<text transform="translate(786.17 493.4) scale(0.77 1)" font-size="8.6">Lead</text>
<text transform="translate(786.17 503.15) scale(0.71 1)" font-size="8.8">207.2</text>
<text transform="translate(833.39 467.9) scale(0.87 1)" font-size="10.4">83</text>
<text x="833.39" y="481.45" font-size="13" class="b">Bi</text>
<text transform="translate(833.39 493.4) scale(0.77 1)" font-size="8.6">Bismuth</text>
<text transform="translate(833.39 503.15) scale(0.71 1)" font-size="8.8">208.98</text>
<text transform="translate(880.61 467.9) scale(0.87 1)" font-size="10.4">84</text>
<text x="880.61" y="481.45" font-size="13" class="b">Po</text>
<text transform="translate(880.61 493.4) scale(0.77 1)" font-size="8.6">Polonium</text>
<text transform="translate(880.61 503.15) scale(0.71 1)" font-size="8.8">(209)</text>
<text transform="translate(927.83 467.9) scale(0.87 1)" font-size="10.4">85</text>
<text x="927.83" y="481.45" font-size="13" class="b">At</text>
<text transform="translate(927.83 493.4) scale(0.77 1)" font-size="8.6">Astatine</text>
<text transform="translate(927.83 503.15) scale(0.71 1)" font-size="8.8">(210)</text>
<text transform="translate(975.05 467.9) scale(0.87 1)" font-size="10.4">86</text>
<text x="975.05" y="481.45" font-size="13" class="b">Rn</text>
<text transform="translate(975.05 493.4) scale(0.77 1)" font-size="8.6">Radon</text>
<text transform="translate(975.05 503.15) scale(0.71 1)" font-size="8.8">(222)</text>
<text transform="translate(172.31 515.12) scale(0.87 1)" font-size="10.4">87</text>
<text x="172.31" y="528.67" font-size="13" class="b">Fr</text>
<text transform="translate(172.31 540.62) scale(0.77 1)" font-size="8.6">Francium</text>
<text transform="translate(172.31 550.37) scale(0.71 1)" font-size="8.8">(223)</text>
<text transform="translate(219.53 515.12) scale(0.87 1)" font-size="10.4">88</text>
<text x="219.53" y="528.67" font-size="13" class="b">Ra</text>
<text transform="translate(219.53 540.62) scale(0.77 1)" font-size="8.6">Radium</text>
<text transform="translate(219.53 550.37) scale(0.71 1)" font-size="8.8">(226)</text>
<text transform="translate(313.97 515.12) scale(0.87 1)" font-size="10.4">104</text>
<text x="313.97" y="528.67" font-size="13" class="b">Rf</text>
<text transform="translate(313.97 540.62) scale(0.77 1)" font-size="8.6">Rutherfordium</text>
<text transform="translate(313.97 550.37) scale(0.71 1)" font-size="8.8">(263)</text>
<text transform="translate(361.19 515.12) scale(0.87 1)" font-size="10.4">105</text>
<text x="361.19" y="528.67" font-size="13" class="b">Db</text>
<text transform="translate(361.19 540.62) scale(0.77 1)" font-size="8.6">Dubnium</text>
<text transform="translate(361.19 550.37) scale(0.71 1)" font-size="8.8">(268)</text>
<text transform="translate(408.41 515.12) scale(0.87 1)" font-size="10.4">106</text>
<text x="408.41" y="528.67" font-size="13" class="b">Sg</text>
<text transform="translate(408.41 540.62) scale(0.77 1)" font-size="8.6">Seaborgium</text>
<text transform="translate(408.41 550.37) scale(0.71 1)" font-size="8.8">(271)</text>
<text transform="translate(455.63 515.12) scale(0.87 1)" font-size="10.4">107</text>
<text x="455.63" y="528.67" font-size="13" class="b">Bh</text>
<text transform="translate(455.63 540.62) scale(0.77 1)" font-size="8.6">Bohrium</text>
<text transform="translate(455.63 550.37) scale(0.71 1)" font-size="8.8">(270)</text>
<text transform="translate(502.85 515.12) scale(0.87 1)" font-size="10.4">108</text>
<text x="502.85" y="528.67" font-size="13" class="b">Hs</text>
<text transform="translate(502.85 540.62) scale(0.77 1)" font-size="8.6">Hassium</text>
<text transform="translate(502.85 550.37) scale(0.71 1)" font-size="8.8">(270)</text>
<text transform="translate(550.07 515.12) scale(0.87 1)" font-size="10.4">109</text>
<text x="550.07" y="528.67" font-size="13" class="b">Mt</text>
<text transform="translate(550.07 540.62) scale(0.77 1)" font-size="8.6">Meitnerium</text>
<text transform="translate(550.07 550.37) scale(0.71 1)" font-size="8.8">(278)</text>
<text transform="translate(597.29 515.12) scale(0.87 1)" font-size="10.4">110</text>
<text x="597.29" y="528.67" font-size="13" class="b">Ds</text>
<text transform="translate(597.29 540.62) scale(0.77 1)" font-size="8.6">Darmstadtium</text>
<text transform="translate(597.29 550.37) scale(0.71 1)" font-size="8.8">(281)</text>
<text transform="translate(644.51 515.12) scale(0.87 1)" font-size="10.4">111</text>
<text x="644.51" y="528.67" font-size="13" class="b">Rg</text>
<text transform="translate(644.51 540.62) scale(0.77 1)" font-size="8.6">Roentgenium</text>
<text transform="translate(644.51 550.37) scale(0.71 1)" font-size="8.8">(281)</text>
<text transform="translate(691.73 515.12) scale(0.87 1)" font-size="10.4">112</text>
<text x="691.73" y="528.67" font-size="13" class="b">Cn</text>
<text transform="translate(691.73 540.62) scale(0.77 1)" font-size="8.6">Copernicium</text>
<text transform="translate(691.73 550.37) scale(0.71 1)" font-size="8.8">(285)</text>
<text transform="translate(738.95 515.12) scale(0.87 1)" font-size="10.4">113</text>
<text x="738.95" y="528.67" font-size="13" class="b">Nh</text>
<text transform="translate(738.95 540.62) scale(0.77 1)" font-size="8.6">Nihonium</text>
<text transform="translate(738.95 550.37) scale(0.71 1)" font-size="8.8">(286)</text>
<text transform="translate(786.17 515.12) scale(0.87 1)" font-size="10.4">114</text>
<text x="786.17" y="528.67" font-size="13" class="b">Fl</text>
<text transform="translate(786.17 540.62) scale(0.77 1)" font-size="8.6">Flerovium</text>
<text transform="translate(786.17 550.37) scale(0.71 1)" font-size="8.8">(289)</text>
<text transform="translate(833.39 515.12) scale(0.87 1)" font-size="10.4">115</text>
<text x="833.39" y="528.67" font-size="13" class="b">Mc</text>
<text transform="translate(833.39 540.62) scale(0.77 1)" font-size="8.6">Moscovium</text>
<text transform="translate(833.39 550.37) scale(0.71 1)" font-size="8.8">(289)</text>
<text transform="translate(880.61 515.12) scale(0.87 1)" font-size="10.4">116</text>
<text x="880.61" y="528.67" font-size="13" class="b">Lv</text>
<text transform="translate(880.61 540.62) scale(0.77 1)" font-size="8.6">Livermorium</text>
<text transform="translate(880.61 550.37) scale(0.71 1)" font-size="8.8">(293)</text>
<text transform="translate(927.83 515.12) scale(0.87 1)" font-size="10.4">117</text>
<text x="927.83" y="528.67" font-size="13" class="b">Ts</text>
<text transform="translate(927.83 540.62) scale(0.77 1)" font-size="8.6">Tennessine</text>
<text transform="translate(927.83 550.37) scale(0.71 1)" font-size="8.8">(294)</text>
<text transform="translate(975.05 515.12) scale(0.87 1)" font-size="10.4">118</text>
<text x="975.05" y="528.67" font-size="13" class="b">Og</text>
<text transform="translate(975.05 540.62) scale(0.77 1)" font-size="8.6">Oganesson</text>
<text transform="translate(975.05 550.37) scale(0.71 1)" font-size="8.8">(294)</text>
<text transform="translate(313.97 609.3) scale(0.87 1)" font-size="10.4">57</text>
<text x="313.97" y="622.85" font-size="13" class="b">La</text>
<text transform="translate(313.97 634.8) scale(0.77 1)" font-size="8.6">Lanthanum</text>
<text transform="translate(313.97 644.55) scale(0.71 1)" font-size="8.8">138.91</text>
<text transform="translate(361.19 609.3) scale(0.87 1)" font-size="10.4">58</text>
<text x="361.19" y="622.85" font-size="13" class="b">Ce</text>
<text transform="translate(361.19 634.8) scale(0.77 1)" font-size="8.6">Cerium</text>
<text transform="translate(361.19 644.55) scale(0.71 1)" font-size="8.8">140.11</text>
<text transform="translate(408.41 609.3) scale(0.87 1)" font-size="10.4">59</text>
<text x="408.41" y="622.85" font-size="13" class="b">Pr</text>
<text transform="translate(408.41 634.8) scale(0.77 1)" font-size="8.6">Praseodymium</text>
<text transform="translate(408.41 644.55) scale(0.71 1)" font-size="8.8">140.91</text>
<text transform="translate(455.63 609.3) scale(0.87 1)" font-size="10.4">60</text>
<text x="455.63" y="622.85" font-size="13" class="b">Nd</text>
<text transform="translate(455.63 634.8) scale(0.77 1)" font-size="8.6">Neodymium</text>
<text transform="translate(455.63 644.55) scale(0.71 1)" font-size="8.8">144.24</text>
<text transform="translate(502.85 609.3) scale(0.87 1)" font-size="10.4">61</text>
<text x="502.85" y="622.85" font-size="13" class="b">Pm</text>
<text transform="translate(502.85 634.8) scale(0.77 1)" font-size="8.6">Promethium</text>
<text transform="translate(502.85 644.55) scale(0.71 1)" font-size="8.8">(145)</text>
<text transform="translate(550.07 609.3) scale(0.87 1)" font-size="10.4">62</text>
<text x="550.07" y="622.85" font-size="13" class="b">Sm</text>
<text transform="translate(550.07 634.8) scale(0.77 1)" font-size="8.6">Samarium</text>
<text transform="translate(550.07 644.55) scale(0.71 1)" font-size="8.8">150.36</text>
<text transform="translate(597.29 609.3) scale(0.87 1)" font-size="10.4">63</text>
<text x="597.29" y="622.85" font-size="13" class="b">Eu</text>
<text transform="translate(597.29 634.8) scale(0.77 1)" font-size="8.6">Europium</text>
<text transform="translate(597.29 644.55) scale(0.71 1)" font-size="8.8">151.96</text>
<text transform="translate(644.51 609.3) scale(0.87 1)" font-size="10.4">64</text>
<text x="644.51" y="622.85" font-size="13" class="b">Gd</text>
<text transform="translate(644.51 634.8) scale(0.77 1)" font-size="8.6">Gadolinium</text>
<text transform="translate(644.51 644.55) scale(0.71 1)" font-size="8.8">157.25</text>
<text transform="translate(691.73 609.3) scale(0.87 1)" font-size="10.4">65</text>
<text x="691.73" y="622.85" font-size="13" class="b">Tb</text>
<text transform="translate(691.73 634.8) scale(0.77 1)" font-size="8.6">Terbium</text>
<text transform="translate(691.73 644.55) scale(0.71 1)" font-size="8.8">158.93</text>
<text transform="translate(738.95 609.3) scale(0.87 1)" font-size="10.4">66</text>
<text x="738.95" y="622.85" font-size="13" class="b">Dy</text>
<text transform="translate(738.95 634.8) scale(0.77 1)" font-size="8.6">Dysprosium</text>
<text transform="translate(738.95 644.55) scale(0.71 1)" font-size="8.8">162.50</text>
<text transform="translate(786.17 609.3) scale(0.87 1)" font-size="10.4">67</text>
<text x="786.17" y="622.85" font-size="13" class="b">Ho</text>
<text transform="translate(786.17 634.8) scale(0.77 1)" font-size="8.6">Holmium</text>
<text transform="translate(786.17 644.55) scale(0.71 1)" font-size="8.8">164.93</text>
<text transform="translate(833.39 609.3) scale(0.87 1)" font-size="10.4">68</text>
<text x="833.39" y="622.85" font-size="13" class="b">Er</text>
<text transform="translate(833.39 634.8) scale(0.77 1)" font-size="8.6">Erbium</text>
<text transform="translate(833.39 644.55) scale(0.71 1)" font-size="8.8">167.26</text>
<text transform="translate(880.61 609.3) scale(0.87 1)" font-size="10.4">69</text>
<text x="880.61" y="622.85" font-size="13" class="b">Tm</text>
<text transform="translate(880.61 634.8) scale(0.77 1)" font-size="8.6">Thulium</text>
<text transform="translate(880.61 644.55) scale(0.71 1)" font-size="8.8">168.93</text>
<text transform="translate(927.83 609.3) scale(0.87 1)" font-size="10.4">70</text>
<text x="927.83" y="622.85" font-size="13" class="b">Yb</text>
<text transform="translate(927.83 634.8) scale(0.77 1)" font-size="8.6">Ytterbium</text>
<text transform="translate(927.83 644.55) scale(0.71 1)" font-size="8.8">173.05</text>
<text transform="translate(975.05 609.3) scale(0.87 1)" font-size="10.4">71</text>
<text x="975.05" y="622.85" font-size="13" class="b">Lu</text>
<text transform="translate(975.05 634.8) scale(0.77 1)" font-size="8.6">Lutetium</text>
<text transform="translate(975.05 644.55) scale(0.71 1)" font-size="8.8">174.97</text>
<text transform="translate(313.97 656.52) scale(0.87 1)" font-size="10.4">89</text>
<text x="313.97" y="670.07" font-size="13" class="b">Ac</text>
<text transform="translate(313.97 682.02) scale(0.77 1)" font-size="8.6">Actinium</text>
<text transform="translate(313.97 691.77) scale(0.71 1)" font-size="8.8">(227)</text>
<text transform="translate(361.19 656.52) scale(0.87 1)" font-size="10.4">90</text>
<text x="361.19" y="670.07" font-size="13" class="b">Th</text>
<text transform="translate(361.19 682.02) scale(0.77 1)" font-size="8.6">Thorium</text>
<text transform="translate(361.19 691.77) scale(0.71 1)" font-size="8.8">232.04</text>
<text transform="translate(408.41 656.52) scale(0.87 1)" font-size="10.4">91</text>
<text x="408.41" y="670.07" font-size="13" class="b">Pa</text>
<text transform="translate(408.41 682.02) scale(0.77 1)" font-size="8.6">Protactinium</text>
<text transform="translate(408.41 691.77) scale(0.71 1)" font-size="8.8">231.04</text>
<text transform="translate(455.63 656.52) scale(0.87 1)" font-size="10.4">92</text>
<text x="455.63" y="670.07" font-size="13" class="b">U</text>
<text transform="translate(455.63 682.02) scale(0.77 1)" font-size="8.6">Uranium</text>
<text transform="translate(455.63 691.77) scale(0.71 1)" font-size="8.8">238.03</text>
<text transform="translate(502.85 656.52) scale(0.87 1)" font-size="10.4">93</text>
<text x="502.85" y="670.07" font-size="13" class="b">Np</text>
<text transform="translate(502.85 682.02) scale(0.77 1)" font-size="8.6">Neptunium</text>
<text transform="translate(502.85 691.77) scale(0.71 1)" font-size="8.8">(237)</text>
<text transform="translate(550.07 656.52) scale(0.87 1)" font-size="10.4">94</text>
<text x="550.07" y="670.07" font-size="13" class="b">Pu</text>
<text transform="translate(550.07 682.02) scale(0.77 1)" font-size="8.6">Plutonium</text>
<text transform="translate(550.07 691.77) scale(0.71 1)" font-size="8.8">(244)</text>
<text transform="translate(597.29 656.52) scale(0.87 1)" font-size="10.4">95</text>
<text x="597.29" y="670.07" font-size="13" class="b">Am</text>
<text transform="translate(597.29 682.02) scale(0.77 1)" font-size="8.6">Americium</text>
<text transform="translate(597.29 691.77) scale(0.71 1)" font-size="8.8">(243)</text>
<text transform="translate(644.51 656.52) scale(0.87 1)" font-size="10.4">96</text>
<text x="644.51" y="670.07" font-size="13" class="b">Cm</text>
<text transform="translate(644.51 682.02) scale(0.77 1)" font-size="8.6">Curium</text>
<text transform="translate(644.51 691.77) scale(0.71 1)" font-size="8.8">(247)</text>
<text transform="translate(691.73 656.52) scale(0.87 1)" font-size="10.4">97</text>
<text x="691.73" y="670.07" font-size="13" class="b">Bk</text>
<text transform="translate(691.73 682.02) scale(0.77 1)" font-size="8.6">Berkelium</text>
<text transform="translate(691.73 691.77) scale(0.71 1)" font-size="8.8">(247)</text>
<text transform="translate(738.95 656.52) scale(0.87 1)" font-size="10.4">98</text>
<text x="738.95" y="670.07" font-size="13" class="b">Cf</text>
<text transform="translate(738.95 682.02) scale(0.77 1)" font-size="8.6">Californium</text>
<text transform="translate(738.95 691.77) scale(0.71 1)" font-size="8.8">(251)</text>
<text transform="translate(786.17 656.52) scale(0.87 1)" font-size="10.4">99</text>
<text x="786.17" y="670.07" font-size="13" class="b">Es</text>
<text transform="translate(786.17 682.02) scale(0.77 1)" font-size="8.6">Einsteinium</text>
<text transform="translate(786.17 691.77) scale(0.71 1)" font-size="8.8">(252)</text>
<text transform="translate(833.39 656.52) scale(0.87 1)" font-size="10.4">100</text>
<text x="833.39" y="670.07" font-size="13" class="b">Fm</text>
<text transform="translate(833.39 682.02) scale(0.77 1)" font-size="8.6">Fermium</text>
<text transform="translate(833.39 691.77) scale(0.71 1)" font-size="8.8">(257)</text>
<text transform="translate(880.61 656.52) scale(0.87 1)" font-size="10.4">101</text>
<text x="880.61" y="670.07" font-size="13" class="b">Md</text>
<text transform="translate(880.61 682.02) scale(0.77 1)" font-size="8.6">Mendelevium</text>
<text transform="translate(880.61 691.77) scale(0.71 1)" font-size="8.8">(258)</text>
<text transform="translate(927.83 656.52) scale(0.87 1)" font-size="10.4">102</text>
<text x="927.83" y="670.07" font-size="13" class="b">No</text>
<text transform="translate(927.83 682.02) scale(0.77 1)" font-size="8.6">Nobelium</text>
<text transform="translate(927.83 691.77) scale(0.71 1)" font-size="8.8">(259)</text>
<text transform="translate(975.05 656.52) scale(0.87 1)" font-size="10.4">103</text>
<text x="975.05" y="670.07" font-size="13" class="b">Lr</text>
<text transform="translate(975.05 682.02) scale(0.77 1)" font-size="8.6">Lawrencium</text>
<text transform="translate(975.05 691.77) scale(0.71 1)" font-size="8.8">(262)</text>
<text transform="translate(266.75 467.9) scale(0.87 1)" font-size="10.4">57-71</text>
<text transform="translate(266.75 493.4) scale(0.77 1)" font-size="8.6">Lanthanides</text>
<text transform="translate(266.75 515.12) scale(0.87 1)" font-size="10.4">89-103</text>
<text transform="translate(266.75 540.62) scale(0.77 1)" font-size="8.6">Actinides</text>
</g>
<g id="groups" text-anchor="middle" fill="#231f20" class="b" font-size="14">
<text x="172.31" y="213.9">1</text>
<text x="219.53" y="261.12">2</text>
<text x="266.75" y="355.56">3</text>
<text x="313.97" y="355.56">4</text>
<text x="361.19" y="355.56">5</text>
<text x="408.41" y="355.56">6</text>
<text x="455.63" y="355.56">7</text>
<text x="502.85" y="355.56">8</text>
<text x="550.07" y="355.56">9</text>
<text x="597.29" y="355.56">10</text>
<text x="644.51" y="355.56">11</text>
<text x="691.73" y="355.56">12</text>
<text x="738.95" y="261.12">13</text>
<text x="786.17" y="261.12">14</text>
<text x="833.39" y="261.12">15</text>
<text x="880.61" y="261.12">16</text>
<text x="927.83" y="261.12">17</text>
<text x="975.05" y="213.9">18</text>
</g>
<g id="periods" text-anchor="middle" fill="#231f20" class="b" font-size="14">
<text x="135.7" y="250.4">1</text>
<text x="135.7" y="297.62">2</text>
<text x="135.7" y="344.84">3</text>
<text x="135.7" y="392.06">4</text>
<text x="135.7" y="439.28">5</text>
<text x="135.7" y="486.5">6</text>
<text x="135.7" y="533.72">7</text>
</g>
<g id="axes" fill="#343132">
<text x="172.31" y="174.1" font-size="11.2" text-anchor="middle">Group</text>
<line x1="172.31" y1="177.2" x2="172.31" y2="185.8" stroke="#231f20" stroke-width="1"/>
<polygon points="172.31,194 169.01,184 172.31,185.8 175.61,184" fill="#231f20"/>
<text x="113.8" y="230.2" font-size="11.2" text-anchor="start">Period</text>
<line x1="93.3" y1="225.8" x2="101.2" y2="225.8" stroke="#231f20" stroke-width="1"/>
<polygon points="108.9,225.8 99.4,229 101.2,225.8 99.4,222.6" fill="#231f20"/>
</g>
<g id="key">
<rect x="290.5" y="222.5" width="94" height="94" fill="#b9dfc3" stroke="#231f20" stroke-width="0.8"/>
<path d="M290.5 221.3V317.7M384.5 221.3V317.7" stroke="#231f20" stroke-width="1.1" fill="none"/>
<g text-anchor="middle" fill="#231f20">
<text transform="translate(337.58 242.2) scale(0.92 1)" font-size="19.8">1</text>
<text x="337.58" y="267.1" font-size="25.2" class="b">H</text>
<text transform="translate(337.58 289.1) scale(0.74 1)" font-size="17.4">Hydrogen</text>
<text transform="translate(337.58 308.5) scale(0.76 1)" font-size="17">1.008</text>
</g>
<line x1="400.9" y1="235.1" x2="353.1" y2="235.1" stroke="#231f20" stroke-width="1"/>
<polygon points="345.4,235.1 354.7,231.8 353.1,235.1 354.7,238.4" fill="#231f20"/>
<text x="405.4" y="239.2" font-size="11.2" text-anchor="start" fill="#343132">Atomic number</text>
<line x1="400.9" y1="257.5" x2="358.5" y2="257.5" stroke="#231f20" stroke-width="1"/>
<polygon points="350.8,257.5 360.1,254.2 358.5,257.5 360.1,260.8" fill="#231f20"/>
<text x="405.4" y="260.8" font-size="11.2" text-anchor="start" fill="#343132">Chemical symbol</text>
<line x1="400.9" y1="283.7" x2="379" y2="283.7" stroke="#231f20" stroke-width="1"/>
<polygon points="371.3,283.7 380.6,280.4 379,283.7 380.6,287" fill="#231f20"/>
<text x="405.4" y="287" font-size="11.2" text-anchor="start" fill="#343132">Chemical name</text>
<line x1="400.9" y1="301.6" x2="368" y2="301.6" stroke="#231f20" stroke-width="1"/>
<polygon points="360.3,301.6 369.6,298.3 368,301.6 369.6,304.9" fill="#231f20"/>
<text x="405.4" y="305.9" font-size="11.2" text-anchor="start" fill="#343132">Atomic weight</text>
</g>
<text id="title" class="b" x="359.3" y="158.9" font-size="21.5" fill="#1d1a1b" stroke="#1d1a1b" stroke-width="1.1" stroke-linejoin="round" textLength="369.6" lengthAdjust="spacingAndGlyphs" word-spacing="2.2">Periodic Table of the Elements</text>
<g id="legend">
<rect x="149.5" y="722.5" width="20.5" height="20.5" fill="#fce4ee" stroke="#231f20" stroke-width="1"/>
<text x="175.7" y="736.9" font-size="11.1" text-anchor="start" fill="#343132">Alkali metals</text>
<rect x="307.5" y="722.5" width="20.5" height="20.5" fill="#c9e9f6" stroke="#231f20" stroke-width="1"/>
<text x="334.1" y="736.9" font-size="11.1" text-anchor="start" fill="#343132">Alkaline earth metals</text>
<rect x="466.5" y="722.5" width="20.5" height="20.5" fill="#eff0f2" stroke="#231f20" stroke-width="1"/>
<text x="492.5" y="736.9" font-size="11.1" text-anchor="start" fill="#343132">Lanthanides</text>
<rect x="624.5" y="722.5" width="20.5" height="20.5" fill="#f8adbc" stroke="#231f20" stroke-width="1"/>
<text x="650.9" y="736.9" font-size="11.1" text-anchor="start" fill="#343132">Actinides</text>
<rect x="783.5" y="722.5" width="20.5" height="20.5" fill="#feebd3" stroke="#231f20" stroke-width="1"/>
<text x="809.3" y="736.9" font-size="11.1" text-anchor="start" fill="#343132">Transition metals</text>
<rect x="149.5" y="756.5" width="20.5" height="19.7" fill="#dbd5c8" stroke="#231f20" stroke-width="1"/>
<text x="175.7" y="770.4" font-size="11.1" text-anchor="start" fill="#343132">Other metals</text>
<rect x="307.5" y="756.5" width="20.5" height="19.7" fill="#fffde9" stroke="#231f20" stroke-width="1"/>
<text x="334.1" y="770.4" font-size="11.1" text-anchor="start" fill="#343132">Metalloids</text>
<rect x="466.5" y="756.5" width="20.5" height="19.7" fill="#b9dfc3" stroke="#231f20" stroke-width="1"/>
<text x="492.5" y="770.4" font-size="11.1" text-anchor="start" fill="#343132">Other nonmetals</text>
<rect x="624.5" y="756.5" width="20.5" height="19.7" fill="#fdd4be" stroke="#231f20" stroke-width="1"/>
<text x="650.9" y="770.4" font-size="11.1" text-anchor="start" fill="#343132">Halogens</text>
<rect x="783.5" y="756.5" width="20.5" height="19.7" fill="#c5e3e6" stroke="#231f20" stroke-width="1"/>
<text x="809.3" y="770.4" font-size="11.1" text-anchor="start" fill="#343132">Noble gases</text>
</g>
<text id="credit" x="999" y="788" font-size="7.8" font-style="italic" text-anchor="end" fill="#3a3738" textLength="169" lengthAdjust="spacingAndGlyphs">Los Alamos National Laboratory, Chemistry Division</text>
</g>
</svg>
<div id="pageno">iii</div>
</body>
</html>
